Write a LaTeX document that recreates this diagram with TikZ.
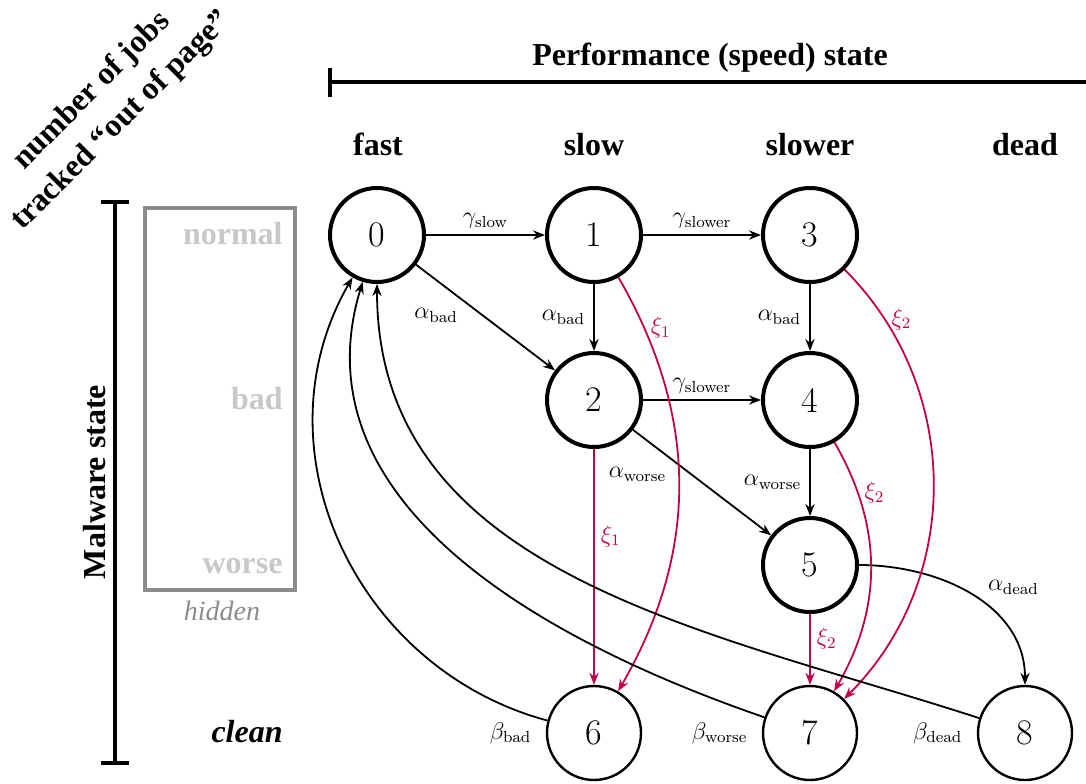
\documentclass[tikz,border=0pt]{standalone}
\usepackage[no-math]{fontspec}
\newfontfamily\tms{Liberation Serif}
\usetikzlibrary{arrows.meta}
\definecolor{xired}{RGB}{196,0,72}
\definecolor{boxgray}{RGB}{140,140,140}
\definecolor{tagray}{RGB}{200,200,200}

\begin{document}
\begin{tikzpicture}[x=0.5pt,y=-0.5pt,
  state/.style={circle, draw, line width=2pt, minimum size=47pt, inner sep=0pt,
    font=\fontsize{18}{21}\selectfont},
  absorb/.style={state, line width=1.2pt},
  trans/.style={-{Stealth[length=6pt,width=4.6pt]}, line width=0.9pt},
  fail/.style={trans, draw=xired},
  lab/.style={font=\fontsize{12}{14}\selectfont, inner sep=3pt},
  rlab/.style={lab, text=xired},
  head/.style={font=\tms\bfseries\fontsize{16}{21}\selectfont},
  hidtag/.style={head, text=tagray, anchor=base east, inner sep=0pt},
  bar/.style={line width=1.75pt},
]
\useasboundingbox (0,0) rectangle (1086,783);

% axis headings
\node[head, rotate=45, align=center] (jobs) at (107,106) {number of jobs\\tracked “out of page”};
\node[head, anchor=base] (perf) at (710,65) {Performance (speed) state};
\node[head, anchor=base] (hfast) at (378,155) {fast};
\node[head, anchor=base] (hslow) at (594,155) {slow};
\node[head, anchor=base] (hslower) at (810,155) {slower};
\node[head, anchor=base] (hdead) at (1025,155) {dead};
\node[head, rotate=90] (mal) at (95,482) {Malware state};

% axis bars
\coordinate (pl) at (330,82);
\coordinate (pr) at (1086,82);
\draw[bar] (330,68) -- (330,97);
\draw[bar] (pl) -- (pr);
\coordinate (mt) at (115,202);
\coordinate (mb) at (115,763);
\draw[bar] (101,202) -- (129,202);
\draw[bar] (mt) -- (mb);
\draw[bar] (101,763) -- (129,763);

% hidden malware states
\draw[boxgray, line width=1.75pt] (145,208) rectangle (295,590);
\node[hidtag] (tnormal) at (283,244) {normal};
\node[hidtag] (tbad) at (283,409) {bad};
\node[hidtag] (tworse) at (283,573) {worse};
\node[font=\tms\itshape\fontsize{14}{17}\selectfont, text=boxgray, anchor=base] (thidden) at (222,620) {hidden};
\node[font=\tms\bfseries\itshape\fontsize{16}{21}\selectfont, anchor=base east, inner sep=0pt] (tclean) at (283,742) {clean};

% states
\node[state] (s0) at (377,235) {0};
\node[state] (s1) at (594,235) {1};
\node[state] (s3) at (810,235) {3};
\node[state] (s2) at (594,400) {2};
\node[state] (s4) at (810,400) {4};
\node[state] (s5) at (810,565) {5};
\node[absorb] (s6) at (594,733) {6};
\node[absorb] (s7) at (810,733) {7};
\node[absorb] (s8) at (1025,733) {8};

% speed and malware transitions
\draw[trans] (s0) -- node[lab, above] {$\gamma_{\mathrm{slow}}$} (s1);
\draw[trans] (s1) -- node[lab, above] {$\gamma_{\mathrm{slower}}$} (s3);
\draw[trans] (s2) -- node[lab, above] {$\gamma_{\mathrm{slower}}$} (s4);
\draw[trans] (s1) -- node[lab, left=1pt] {$\alpha_{\mathrm{bad}}$} (s2);
\draw[trans] (s3) -- node[lab, left=1pt] {$\alpha_{\mathrm{bad}}$} (s4);
\draw[trans] (s4) -- node[lab, left=1pt] {$\alpha_{\mathrm{worse}}$} (s5);
\draw[trans] (s0) -- node[lab, pos=0.35, below left] {$\alpha_{\mathrm{bad}}$} (s2);
\draw[trans] (s2) -- node[lab, pos=0.29, below left] {$\alpha_{\mathrm{worse}}$} (s5);
\draw[trans] (s5.east) to[out=0,in=90] node[lab, pos=0.55, above right] {$\alpha_{\mathrm{dead}}$} (s8.north);

% job failures
\draw[fail] (s2) -- node[rlab, pos=0.37, right] {$\xi_1$} (s6);
\draw[fail] (s5) -- node[rlab, pos=0.35, right] {$\xi_2$} (s7);
\draw[fail] (s1) to[out=-60,in=60] node[rlab, pos=0.12, right] {$\xi_1$} (s6);
\draw[fail] (s4) to[out=-60,in=60] node[rlab, pos=0.2, right] {$\xi_2$} (s7);
\draw[fail] (s3) to[out=-45,in=45] node[rlab, pos=0.13, right] {$\xi_2$} (s7);

% cleaning returns to state 0
\draw[trans] (s6) to[out=165,in=-120,looseness=1.05] (s0);
\draw[trans] (s7) to[out=161,in=-107] (s0);
\draw[trans] (s8) to[out=162,in=-90] (s0);
\node[lab, left=4pt] (bbad) at (s6.west) {$\beta_{\mathrm{bad}}$};
\node[lab, left=4pt] (bworse) at (s7.west) {$\beta_{\mathrm{worse}}$};
\node[lab, left=4pt] (bdead) at (s8.west) {$\beta_{\mathrm{dead}}$};
\end{tikzpicture}
\end{document}
